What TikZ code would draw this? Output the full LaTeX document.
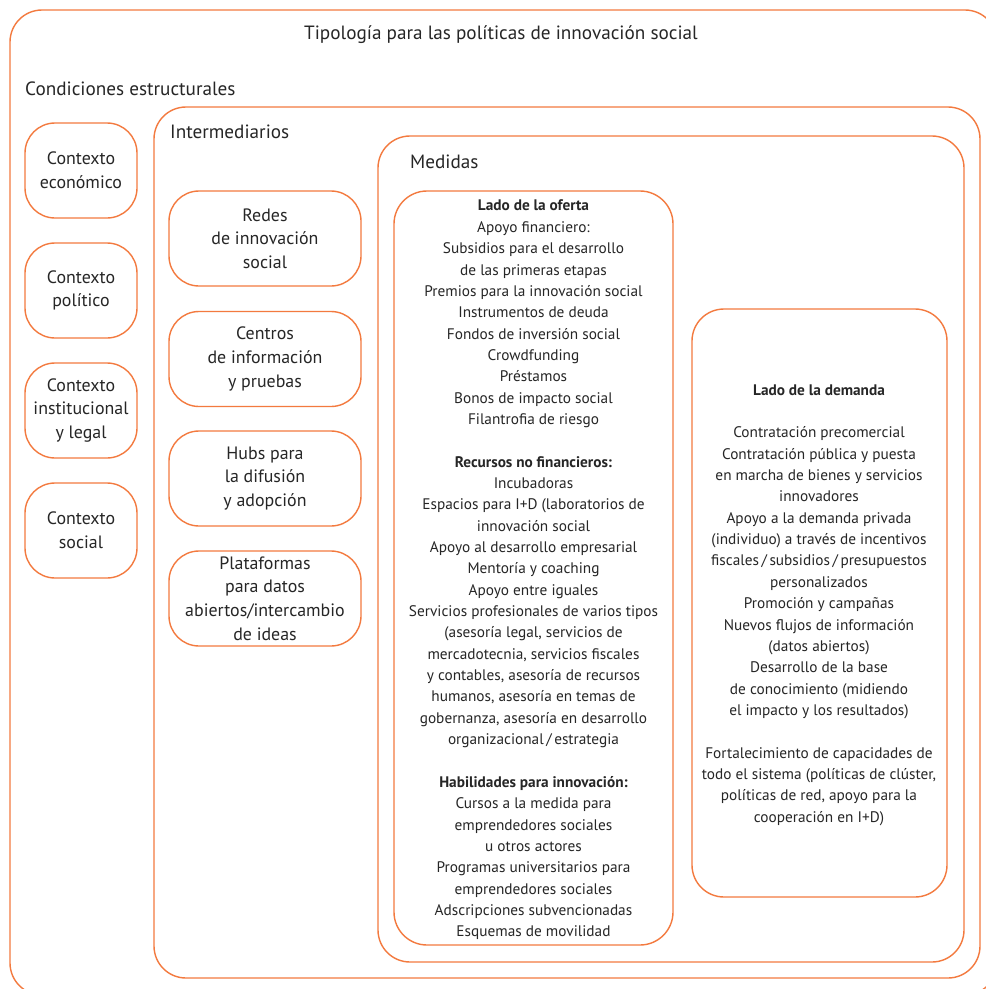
\documentclass[tikz,border=0pt]{standalone}
\usepackage{fontspec}
\setmainfont{PT Sans}
\definecolor{frame}{HTML}{F37A3F}
\definecolor{ink}{HTML}{262626}
\begin{document}
\begin{tikzpicture}[x=1pt,y=-1pt,
  frm/.style={draw=frame, line width=1.4pt, rounded corners=32pt},
  cbox/.style={draw=frame, line width=1.4pt, rounded corners=30pt, inner sep=0pt,
    minimum width=112pt, minimum height=95pt, align=center, text=ink,
    font=\fontsize{17.9}{23.7}\selectfont},
  ibox/.style={cbox, minimum width=192pt},
  lbl/.style={text=ink, inner sep=0pt, font=\fontsize{19.2}{21}\selectfont},
  body/.style={text=ink, inner sep=0pt, align=center, font=\fontsize{15.3}{21.35}\selectfont}
]
\useasboundingbox (0,0) rectangle (986,989);
\fill[white] (0,0) rectangle (986,989);
% containers
\draw[frm] (10,10) rectangle (997,995);
\node[frm, inner sep=0pt, minimum width=826pt, minimum height=871pt] (inter) at (567,542.5) {};
\node[frm, inner sep=0pt, minimum width=586pt, minimum height=826pt] (medidas) at (671,549) {};
\node[frm, rounded corners=33pt, inner sep=0pt, minimum width=279pt, minimum height=754pt] (oferta) at (533.5,568) {};
\node[frm, inner sep=0pt, minimum width=255pt, minimum height=588pt] (demanda) at (819.5,603) {};
% labels
\node[lbl] (title) at (501,35) {Tipología para las políticas de innovación social};
\node[lbl, anchor=west] (cond) at (25,88.5) {Condiciones estructurales};
\node[lbl, anchor=west] (intl) at (170,131.5) {Intermediarios};
\node[lbl, anchor=west] (medl) at (410,161.5) {Medidas};
% left column
\node[cbox] (c1) at (81,170.5) {Contexto\\económico};
\node[cbox] (c2) at (81,290.5) {Contexto\\político};
\node[cbox] (c3) at (81,410.5) {Contexto\\institucional\\y legal};
\node[cbox] (c4) at (81,530.5) {Contexto\\social};
% intermediaries
\node[ibox] (i1) at (265,238.5) {Redes\\de innovación\\social};
\node[ibox] (i2) at (265,359) {Centros\\de información\\y pruebas};
\node[ibox] (i3) at (265,478.5) {Hubs para\\la difusión\\y adopción};
\node[ibox] (i4) at (265,598.5) {Plataformas\\para datos\\abiertos/intercambio\\de ideas};
% supply side text
\node[body] (otext) at (533.5,570) {\textbf{Lado de la oferta}\\
Apoyo financiero:\\
Subsidios para el desarrollo\\
de las primeras etapas\\
Premios para la innovación social\\
Instrumentos de deuda\\
Fondos de inversión social\\
Crowdfunding\\
Préstamos\\
Bonos de impacto social\\
Filantrofia de riesgo\\[21.35pt]
\textbf{Recursos no financieros:}\\
Incubadoras\\
Espacios para I+D (laboratorios de\\
innovación social\\
Apoyo al desarrollo empresarial\\
Mentoría y coaching\\
Apoyo entre iguales\\
Servicios profesionales de varios tipos\\
(asesoría legal, servicios de\\
mercadotecnia, servicios fiscales\\
y contables, asesoría de recursos\\
humanos, asesoría en temas de\\
gobernanza, asesoría en desarrollo\\
organizacional\,/\,estrategia\\[21.35pt]
\textbf{Habilidades para innovación:}\\
Cursos a la medida para\\
emprendedores sociales\\
u otros actores\\
Programas universitarios para\\
emprendedores sociales\\
Adscripciones subvencionadas\\
Esquemas de movilidad};
% demand side text
\node[body] (dtext) at (819,605) {\textbf{Lado de la demanda}\\[21.35pt]
Contratación precomercial\\
Contratación pública y puesta\\
en marcha de bienes y servicios\\
innovadores\\
Apoyo a la demanda privada\\
(individuo) a través de incentivos\\
fiscales\,/\,subsidios\,/\,presupuestos\\
personalizados\\
Promoción y campañas\\
Nuevos flujos de información\\
(datos abiertos)\\
Desarrollo de la base\\
de conocimiento (midiendo\\
el impacto y los resultados)\\[21.35pt]
Fortalecimiento de capacidades de\\
todo el sistema (políticas de clúster,\\
políticas de red, apoyo para la\\
cooperación en I+D)};
\end{tikzpicture}
\end{document}
